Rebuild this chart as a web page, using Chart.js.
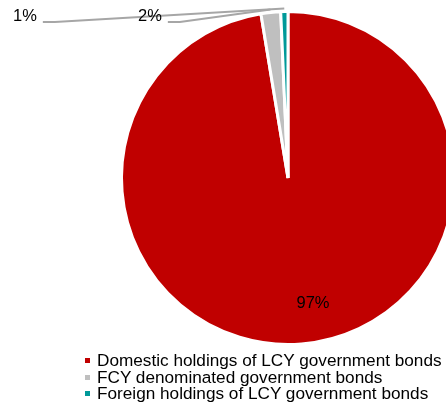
<!DOCTYPE html>
<html>
<head>
<meta charset="utf-8">
<script src="https://cdn.jsdelivr.net/npm/chart.js@4.4.1/dist/chart.umd.min.js"></script>
<style>
  html, body { margin: 0; padding: 0; background: #fff; overflow: hidden; }
  #wrap { position: relative; width: 446px; height: 406px; overflow: hidden; }
  #holdings { position: absolute; left: 0; top: 0; }
  #legend { position: absolute; left: 85px; top: 352px; font-family: "Liberation Sans", Arial, sans-serif;
            font-size: 17.2px; line-height: 16.7px; color: #000; white-space: nowrap; }
  #legend div { position: relative; padding-left: 12px; }
  #legend span { position: absolute; left: 0; top: 6px; width: 5px; height: 5px; }
</style>
</head>
<body>
<div id="wrap">
  <canvas id="holdings" width="576" height="356"></canvas>
  <div id="legend"></div>
</div>
<script>
var categories = ['Domestic holdings of LCY government bonds', 'FCY denominated government bonds', 'Foreign holdings of LCY government bonds'];
var shares = [97.4, 1.9, 0.7];
var colours = ['#C00000', '#BFBFBF', '#009999'];

// where each percentage label sits (inside: no leader line)
var labelSpots = [
  { x: 313, y: 303.5, inside: true },
  { x: 138, y: 16.5, inside: false },
  { x: 13, y: 16.5, inside: false }
];

var pctLabels = {
  id: 'pctLabels',
  afterDraw: function (chart) {
    var ctx = chart.ctx;
    var arcs = chart.getDatasetMeta(0).data;
    ctx.save();
    ctx.font = '16.5px "Liberation Sans", Arial, sans-serif';
    ctx.textBaseline = 'middle';
    arcs.forEach(function (arc, i) {
      var spot = labelSpots[i];
      var text = Math.round(shares[i]) + '%';
      if (!spot.inside) {
        var w = ctx.measureText(text).width;
        var mid = (arc.startAngle + arc.endAngle) / 2;
        var r = arc.outerRadius + 3;
        var ex = arc.x + Math.cos(mid) * r;
        var ey = arc.y + Math.sin(mid) * r;
        var sx = spot.x + w + 6;
        var sy = spot.y + 5.5;
        ctx.beginPath();
        ctx.strokeStyle = '#A6A6A6';
        ctx.lineWidth = 2;
        ctx.moveTo(sx, sy);
        ctx.lineTo(sx + 12, sy);
        ctx.lineTo(ex, ey);
        ctx.stroke();
      }
    });
    arcs.forEach(function (arc, i) {
      var spot = labelSpots[i];
      ctx.fillStyle = '#000';
      ctx.textAlign = spot.inside ? 'center' : 'left';
      ctx.fillText(Math.round(shares[i]) + '%', spot.x, spot.y);
    });
    ctx.restore();
  }
};

var holdings = document.getElementById('holdings').getContext('2d');
var myChart = new Chart(holdings, {
  type: 'pie',
  data: {
    labels: categories,
    datasets: [{
      data: shares,
      backgroundColor: colours,
      borderColor: '#ffffff',
      borderWidth: 3,
      hoverOffset: 0
    }]
  },
  options: {
    responsive: false,
    animation: false,
    layout: { padding: { top: 10, bottom: 10, left: 12, right: 12 } },
    plugins: {
      legend: { display: false },
      tooltip: { enabled: false }
    }
  },
  plugins: [pctLabels]
});

// legend below the pie
var legend = document.getElementById('legend');
categories.forEach(function (name, i) {
  var row = document.createElement('div');
  var box = document.createElement('span');
  box.style.background = colours[i];
  row.appendChild(box);
  row.appendChild(document.createTextNode(name));
  legend.appendChild(row);
});
</script>
</body>
</html>
